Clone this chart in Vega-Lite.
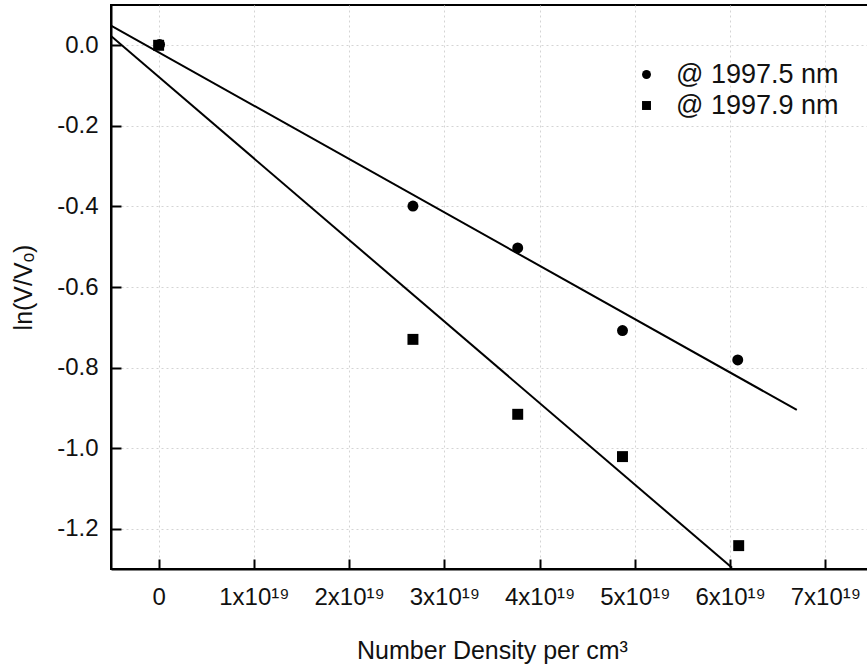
{
  "$schema": "https://vega.github.io/schema/vega-lite/v6.json",
  "autosize": "none",
  "padding": {"left": 111, "top": 5, "right": 0, "bottom": 102},
  "width": 762,
  "height": 564,
  "background": "white",
  "config": {
    "font": "Liberation Sans",
    "view": {"stroke": "black", "strokeWidth": 2},
    "axis": {
      "domainColor": "black",
      "domainWidth": 2,
      "tickColor": "black",
      "tickWidth": 2,
      "tickSize": -10,
      "labelFont": "Liberation Sans",
      "labelFontSize": 24,
      "labelColor": "#111",
      "titleFont": "Liberation Sans",
      "titleFontSize": 25,
      "titleFontWeight": "normal",
      "titleColor": "#111",
      "gridColor": "#d4d4d4",
      "gridDash": [2, 3],
      "gridWidth": 1
    }
  },
  "datasets": {
    "pts": [
      {"series": "@ 1997.9 nm", "x": 0.0, "y": 0.0},
      {"series": "@ 1997.9 nm", "x": 2.67, "y": -0.73},
      {"series": "@ 1997.9 nm", "x": 3.77, "y": -0.916},
      {"series": "@ 1997.9 nm", "x": 4.87, "y": -1.021},
      {"series": "@ 1997.9 nm", "x": 6.09, "y": -1.242},
      {"series": "@ 1997.5 nm", "x": 0.01, "y": 0.002},
      {"series": "@ 1997.5 nm", "x": 2.67, "y": -0.399},
      {"series": "@ 1997.5 nm", "x": 3.77, "y": -0.503},
      {"series": "@ 1997.5 nm", "x": 4.87, "y": -0.708},
      {"series": "@ 1997.5 nm", "x": 6.08, "y": -0.781}
    ],
    "fits": [
      {"series": "@ 1997.5 nm", "x": -0.5, "y": 0.049},
      {"series": "@ 1997.5 nm", "x": 6.70, "y": -0.905},
      {"series": "@ 1997.9 nm", "x": -0.5, "y": 0.023},
      {"series": "@ 1997.9 nm", "x": 6.02, "y": -1.297}
    ]
  },
  "layer": [
    {
      "data": {"name": "fits"},
      "mark": {"type": "line", "color": "black", "strokeWidth": 2, "clip": true},
      "encoding": {
        "x": {
          "field": "x", "type": "quantitative",
          "scale": {"domain": [-0.5, 7.5], "nice": false, "zero": false},
          "axis": {
            "values": [0, 1, 2, 3, 4, 5, 6, 7],
            "labelExpr": "datum.value == 0 ? '0' : datum.value + 'x10¹⁹'",
            "labelPadding": 26,
            "title": "Number Density per cm³",
            "titlePadding": 29,
            "grid": true
          }
        },
        "y": {
          "field": "y", "type": "quantitative",
          "scale": {"domain": [-1.3, 0.1], "nice": false, "zero": false},
          "axis": {
            "values": [-1.2, -1.0, -0.8, -0.6, -0.4, -0.2, 0.0],
            "labelExpr": "replace(format(datum.value, '.1f'), '−', '-')",
            "labelPadding": 23,
            "title": "ln(V/Vₒ)",
            "titlePadding": 20,
            "grid": true
          }
        },
        "detail": {"field": "series"}
      }
    },
    {
      "data": {"name": "pts"},
      "mark": {"type": "point", "filled": true, "color": "black", "opacity": 1, "size": 120},
      "encoding": {
        "x": {"field": "x", "type": "quantitative"},
        "y": {"field": "y", "type": "quantitative"},
        "shape": {
          "field": "series", "type": "nominal",
          "scale": {"domain": ["@ 1997.5 nm", "@ 1997.9 nm"], "range": ["circle", "square"]},
          "legend": {
            "orient": "none",
            "legendX": 522,
            "legendY": 56,
            "title": null,
            "padding": 0,
            "symbolSize": 80,
            "symbolFillColor": "black",
            "symbolStrokeColor": "black",
            "symbolOpacity": 1,
            "labelFontSize": 27,
            "labelFont": "Liberation Sans",
            "labelColor": "#111",
            "labelLimit": 400,
            "labelOffset": 16,
            "rowPadding": 3
          }
        }
      }
    }
  ]
}
